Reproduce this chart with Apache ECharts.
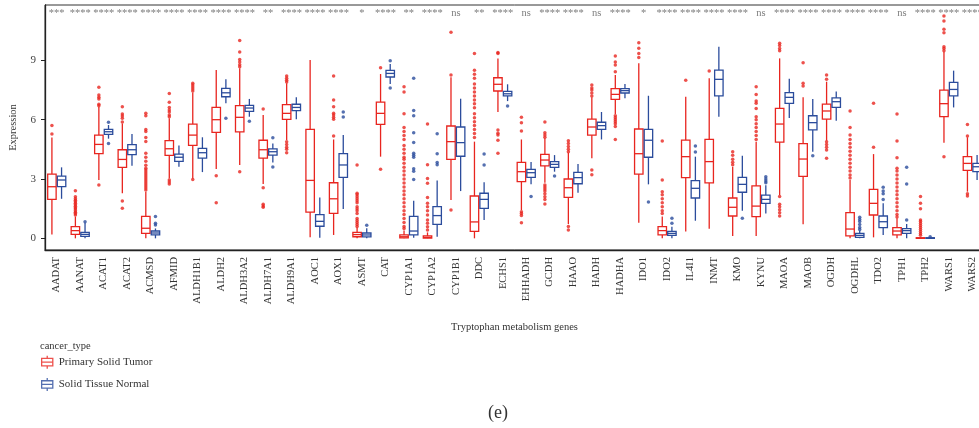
<!DOCTYPE html>
<html>
<head>
<meta charset="utf-8">
<script src="https://cdn.jsdelivr.net/npm/echarts@6/dist/echarts.min.js"></script>
<style>
html, body { margin: 0; padding: 0; overflow: hidden; background: #fff; }
#main { width: 990px; height: 428px; }
</style>
</head>
<body>
<div id="main"></div>
<script>
// genes on the x axis
const genes = ['AADAT', 'AANAT', 'ACAT1', 'ACAT2', 'ACMSD', 'AFMID', 'ALDH1B1', 'ALDH2', 'ALDH3A2', 'ALDH7A1',
    'ALDH9A1', 'AOC1', 'AOX1', 'ASMT', 'CAT', 'CYP1A1', 'CYP1A2', 'CYP1B1', 'DDC', 'ECHS1',
    'EHHADH', 'GCDH', 'HAAO', 'HADH', 'HADHA', 'IDO1', 'IDO2', 'IL4I1', 'INMT', 'KMO',
    'KYNU', 'MAOA', 'MAOB', 'OGDH', 'OGDHL', 'TDO2', 'TPH1', 'TPH2', 'WARS1', 'WARS2']

// [lower whisker, Q1, median, Q3, upper whisker]
const tumorBox = [
    [0.2, 1.97, 2.61, 3.25, 5.1], [0, 0.2, 0.39, 0.59, 1.1], [2.95, 4.28, 4.75, 5.22, 6.66], [2.28, 3.59, 3.99, 4.48, 5.81],
    [0, 0.25, 0.51, 1.11, 2.36], [3.02, 4.2, 4.53, 4.94, 6.07], [3.03, 4.7, 5.22, 5.78, 7.37], [3.5, 5.36, 6.0, 6.62, 8.51],
    [3.71, 5.38, 6.12, 6.71, 8.6], [2.75, 4.06, 4.48, 4.96, 6.24], [4.97, 6.02, 6.32, 6.76, 7.84], [0.05, 1.33, 2.93, 5.51, 9.02],
    [0.17, 1.26, 2.0, 2.81, 5.0], [0, 0.08, 0.19, 0.3, 0.55], [4.13, 5.76, 6.32, 6.89, 8.31], [0, 0.02, 0.08, 0.17, 0.4],
    [0, 0.01, 0.05, 0.12, 0.3], [1.94, 3.99, 4.89, 5.68, 8.14], [0, 0.35, 0.83, 2.14, 4.89], [6.39, 7.45, 7.79, 8.12, 9.1],
    [1.43, 2.87, 3.37, 3.84, 5.0], [2.81, 3.66, 3.96, 4.25, 5.06], [0.72, 2.07, 2.56, 3.0, 4.33], [4.05, 5.22, 5.63, 6.03, 7.13],
    [6.29, 7.03, 7.28, 7.57, 8.26], [0.79, 3.25, 4.28, 5.53, 8.85], [0, 0.17, 0.39, 0.59, 1.1], [0.34, 3.07, 4.13, 4.97, 7.16],
    [0.49, 2.8, 3.88, 5.0, 8.09], [0.12, 1.13, 1.57, 2.04, 3.62], [0.12, 1.1, 1.63, 2.65, 4.89], [2.19, 4.87, 5.78, 6.57, 9.1],
    [0.71, 3.13, 4.01, 4.79, 7.13], [4.94, 6.03, 6.44, 6.79, 7.92], [0, 0.12, 0.47, 1.3, 2.95], [0.05, 1.18, 1.77, 2.48, 4.26],
    [0, 0.17, 0.37, 0.54, 1.01], [0, 0, 0, 0.03, 0.06], [4.84, 6.15, 6.81, 7.5, 9.44], [2.36, 3.44, 3.79, 4.13, 5.11]
]
const normalBox = [
    [2.0, 2.61, 2.95, 3.15, 3.59], [0, 0.1, 0.2, 0.3, 0.79], [5.04, 5.26, 5.39, 5.51, 5.73], [3.67, 4.23, 4.48, 4.74, 5.28],
    [0, 0.17, 0.27, 0.37, 0.5], [3.62, 3.89, 4.1, 4.26, 4.7], [3.35, 4.06, 4.33, 4.55, 5.11], [6.83, 7.16, 7.36, 7.58, 8.04],
    [6.15, 6.42, 6.59, 6.72, 7.05], [3.83, 4.21, 4.38, 4.52, 4.8], [6.02, 6.46, 6.62, 6.78, 7.13], [0.03, 0.61, 0.86, 1.2, 2.07],
    [1.48, 3.08, 3.71, 4.28, 5.22], [0, 0.07, 0.17, 0.27, 0.51], [7.8, 8.16, 8.34, 8.49, 8.81], [0.03, 0.17, 0.37, 1.11, 1.9],
    [0.08, 0.71, 1.15, 1.6, 2.93], [2.39, 4.15, 4.84, 5.63, 7.06], [0.93, 1.52, 1.97, 2.28, 2.83], [6.94, 7.2, 7.31, 7.43, 7.79],
    [2.73, 3.08, 3.32, 3.49, 3.86], [3.37, 3.59, 3.74, 3.88, 4.21], [2.31, 2.76, 3.07, 3.34, 3.76], [5.0, 5.51, 5.7, 5.87, 6.39],
    [7.08, 7.35, 7.47, 7.57, 7.8], [2.73, 4.1, 4.96, 5.51, 7.21], [0, 0.15, 0.25, 0.35, 0.59], [0.89, 2.04, 2.53, 2.92, 4.13],
    [6.15, 7.2, 8.04, 8.51, 9.69], [1.4, 2.33, 2.73, 3.08, 4.18], [1.26, 1.77, 1.97, 2.19, 2.68], [6.08, 6.83, 7.13, 7.37, 8.07],
    [4.38, 5.48, 5.85, 6.2, 7.05], [5.95, 6.62, 6.91, 7.1, 7.43], [0, 0.05, 0.15, 0.25, 0.4], [0.17, 0.54, 0.84, 1.13, 1.77],
    [0, 0.25, 0.39, 0.49, 0.72], [0, 0, 0.01, 0.03, 0.05], [6.62, 7.2, 7.53, 7.89, 8.48], [2.95, 3.37, 3.62, 3.79, 4.21]
]

// outlier points per gene
const tumorOut = [
    [5.71, 5.28],
    [2.41, 2.1, 2.0, 1.92, 1.85, 1.78, 1.7, 1.62, 1.55, 1.48, 1.4, 1.32, 1.25, 1.18],
    [7.64, 7.25, 7.13, 7.05, 6.78, 6.7, 2.7],
    [6.66, 6.29, 6.19, 6.07, 5.88, 1.89, 1.52],
    [6.32, 6.2, 5.5, 5.4, 5.1, 4.9, 4.3, 4.1, 3.9, 3.7, 3.55, 3.45, 3.35, 3.25, 3.15, 3.05, 2.95, 2.85, 2.75, 2.65, 2.55, 2.45],
    [7.33, 6.88, 6.62, 6.49, 6.39, 6.24, 6.15, 2.95, 2.85, 2.75],
    [7.84, 7.75, 7.65, 7.55, 7.45, 2.98],
    [3.17, 1.8],
    [10.01, 9.42, 9.05, 8.92, 8.78, 8.68, 3.37],
    [6.54, 2.56, 1.72, 1.63, 1.57],
    [8.21, 8.1, 8.0, 7.9, 4.89, 4.75, 4.6, 4.5, 4.33],
    [],
    [8.21, 6.99, 6.66, 6.32, 6.24, 6.12, 6.02, 5.17],
    [3.71, 2.28, 2.2, 2.1, 2.0, 1.9, 1.8, 1.6, 1.5, 1.4, 1.26, 1.0, 0.9, 0.8, 0.7, 0.6],
    [8.63, 3.49],
    [7.67, 7.4, 6.3, 5.6, 5.4, 5.2, 5.0, 4.7, 4.5, 4.3, 4.1, 4.0, 3.8, 3.6, 3.4, 3.2, 3.0, 2.8, 2.6, 2.4, 2.2, 2.0, 1.8, 1.6, 1.4, 1.2, 1.0, 0.8, 0.6, 0.5],
    [5.78, 3.72, 3.03, 2.78, 2.06, 1.77, 1.6, 1.4, 1.18, 0.93, 0.76, 0.59, 0.42],
    [10.42, 8.26, 1.43],
    [9.35, 8.5, 8.3, 8.1, 7.8, 7.6, 7.4, 7.2, 7.0, 6.8, 6.6, 6.3, 6.1, 5.9, 5.7, 5.5, 5.3, 5.1],
    [9.4, 9.35, 5.48, 5.31, 5.22, 4.96, 4.3],
    [6.12, 5.85, 5.43, 1.35, 1.25, 1.15, 0.79],
    [5.88, 5.34, 5.22, 5.11, 2.7, 2.6, 2.5, 2.4, 2.25, 2.1, 1.97, 1.74],
    [4.94, 4.8, 4.65, 4.5, 4.38, 0.6, 0.42],
    [7.75, 7.6, 7.5, 7.35, 7.2, 3.46, 3.22],
    [9.22, 8.92, 8.76, 8.43, 6.2, 6.1, 6.0, 5.9, 5.8, 5.65, 5.0],
    [9.89, 9.61, 9.35, 9.15],
    [4.92, 2.95, 2.36, 2.2, 2.0, 1.8, 1.6, 1.4, 1.26],
    [7.99],
    [8.46],
    [4.38, 4.2, 4.0, 3.85, 3.72],
    [7.67, 7.28, 6.94, 6.83, 6.57, 6.15, 6.0, 5.8, 5.6, 5.4, 5.2, 5.0],
    [9.86, 9.75, 9.6, 9.49, 2.11, 1.72, 1.6, 1.45, 1.3, 1.13],
    [8.88, 7.84, 7.7],
    [8.26, 8.04, 4.89, 4.75, 4.6, 4.47, 4.05],
    [6.44, 5.6, 5.22, 5.0, 4.8, 4.6, 4.4, 4.2, 4.0, 3.8, 3.6, 3.4, 3.2, 3.05],
    [6.83, 4.6],
    [6.29, 4.92, 4.08, 3.54, 3.4, 3.2, 3.0, 2.8, 2.6, 2.4, 2.2, 2.0, 1.8, 1.6, 1.4, 1.2, 1.08],
    [2.12, 1.77, 1.5, 0.93, 0.85, 0.75, 0.65, 0.55, 0.45, 0.35, 0.25, 0.15],
    [11.24, 10.99, 10.57, 10.4, 9.69, 9.6, 9.49, 4.13],
    [5.76, 5.17, 2.25, 2.14]
]
const normalOut = [
    [], [0.84], [5.87, 4.8], [], [1.1, 0.76, 0.67], [], [], [6.07], [5.92], [5.09, 3.61],
    [], [], [6.39, 6.13], [0.66], [8.98, 7.6],
    [8.09, 6.46, 6.2, 5.34, 4.85, 4.3, 4.2, 4.1, 3.52, 3.39, 2.98],
    [5.29, 4.28, 3.84, 3.72], [], [4.26, 3.71], [6.69],
    [2.11], [3.15], [], [], [], [1.84], [1.01, 0.76], [4.67, 4.37], [], [1.01],
    [3.12, 3.0, 2.9, 2.81], [], [4.18], [], [1.06, 0.95, 0.85, 0.7, 0.55, 0.45], [2.58, 2.4, 2.25, 1.97],
    [3.59, 2.75, 0.93], [0.08], [], []
]

// significance labels above each gene
const sigs = ['***', '****', '****', '****', '****', '****', '****', '****', '****', '**',
    '****', '****', '****', '*', '****', '**', '****', 'ns', '**', '****',
    'ns', '****', '****', 'ns', '****', '*', '****', '****', '****', '****',
    'ns', '****', '****', '****', '****', '****', 'ns', '****', '****', '****']

const yTicks = [0, 3, 6, 9]

const red = '#E8251F'
const blue = '#2B4C9C'
const serif = 'Liberation Serif'
const dodge = 0.2055
const boxSpan = 0.36
const sigY = 11.38
const boxIcon = 'path://M6.5,0V3M0.5,3H12.5V11H0.5ZM0.5,7H12.5M6.5,11V14'

function boxData (boxes, off) {
    return boxes.map((b, i) => [i + off].concat(b))
}
function outData (outs, off) {
    let pts = []
    outs.forEach((arr, i) => {
        arr.forEach(v => pts.push([i + off, v]))
    })
    return pts
}
function boxItem (color) {
    return function (params, api) {
        const x = api.value(0)
        const lo = api.coord([x, api.value(1)])
        const q1 = api.coord([x, api.value(2)])
        const md = api.coord([x, api.value(3)])
        const q3 = api.coord([x, api.value(4)])
        const hi = api.coord([x, api.value(5)])
        const half = api.size([boxSpan, 0])[0] / 2
        const st = { stroke: color, lineWidth: 1.3, fill: 'none' }
        return {
            type: 'group',
            children: [
                { type: 'line', shape: { x1: lo[0], y1: lo[1], x2: q1[0], y2: q1[1] }, style: st },
                { type: 'line', shape: { x1: q3[0], y1: q3[1], x2: hi[0], y2: hi[1] }, style: st },
                { type: 'rect', shape: { x: q3[0] - half, y: q3[1], width: half * 2, height: q1[1] - q3[1] },
                    style: { stroke: color, lineWidth: 1.3, fill: '#fff' } },
                { type: 'line', shape: { x1: md[0] - half, y1: md[1], x2: md[0] + half, y2: md[1] }, style: st },
            ],
        }
    }
}

let option = {
    backgroundColor: '#ffffff',
    animation: false,
    title: [
        { text: 'cancer_type', left: 40, top: 341, padding: 0,
            textStyle: { fontFamily: serif, fontSize: 10.5, fontWeight: 'normal', color: '#333' } },
        { text: '(e)', left: 488, top: 404, padding: 0,
            textStyle: { fontFamily: serif, fontSize: 18, fontWeight: 'normal', color: '#333' } },
    ],
    legend: {
        orient: 'vertical',
        left: 41,
        top: 355,
        padding: 0,
        itemWidth: 13,
        itemHeight: 13,
        itemGap: 8,
        textStyle: { fontFamily: serif, fontSize: 11, color: '#333' },
        data: [
            { name: 'Primary Solid Tumor', icon: boxIcon,
                itemStyle: { color: 'rgba(0,0,0,0)', borderColor: red, borderWidth: 1.3 } },
            { name: 'Solid Tissue Normal', icon: boxIcon,
                itemStyle: { color: 'rgba(0,0,0,0)', borderColor: blue, borderWidth: 1.3 } },
        ],
    },
    grid: {
        left: 42, top: 5, width: 942, height: 245,
        show: true, borderColor: '#333', borderWidth: 1,
    },
    xAxis: [
        {
            type: 'category',
            data: genes,
            axisLine: { onZero: false, lineStyle: { color: '#222', width: 1.3 } },
            axisTick: { alignWithLabel: true, length: 4, lineStyle: { color: '#222' } },
            axisLabel: { rotate: 90, margin: 7, interval: 0, fontFamily: serif, fontSize: 10.5, color: '#333' },
            splitLine: { show: false },
            name: 'Tryptophan metabolism genes',
            nameLocation: 'middle',
            nameGap: 72,
            nameTextStyle: { fontFamily: serif, fontSize: 10.5, color: '#333' },
        },
        { type: 'value', min: -0.5, max: 39.5, show: false },
    ],
    yAxis: {
        type: 'value',
        min: -0.59,
        max: 11.8,
        axisLine: { show: true, onZero: false, lineStyle: { color: '#222', width: 1.3 } },
        axisTick: { show: true, length: 4, customValues: yTicks, lineStyle: { color: '#222' } },
        axisLabel: { customValues: yTicks, margin: 9, fontFamily: serif, fontSize: 11, color: '#444' },
        splitLine: { show: false },
        name: 'Expression',
        nameLocation: 'middle',
        nameRotate: 90,
        nameGap: 26,
        nameTextStyle: { fontFamily: serif, fontSize: 10.5, color: '#333' },
    },
    series: [
        {
            name: 'Primary Solid Tumor', type: 'scatter', xAxisIndex: 1,
            data: outData(tumorOut, -dodge), symbolSize: 3.5, itemStyle: { color: red },
        },
        {
            name: 'Solid Tissue Normal', type: 'scatter', xAxisIndex: 1,
            data: outData(normalOut, dodge), symbolSize: 3.5, itemStyle: { color: blue },
        },
        {
            name: 'Primary Solid Tumor', type: 'custom', xAxisIndex: 1,
            data: boxData(tumorBox, -dodge), renderItem: boxItem(red),
            encode: { x: 0, y: [1, 2, 3, 4, 5] },
        },
        {
            name: 'Solid Tissue Normal', type: 'custom', xAxisIndex: 1,
            data: boxData(normalBox, dodge), renderItem: boxItem(blue),
            encode: { x: 0, y: [1, 2, 3, 4, 5] },
        },
        {
            name: 'sig', type: 'scatter', xAxisIndex: 1,
            data: sigs.map((s, i) => [i, sigY]),
            symbolSize: 1,
            itemStyle: { color: 'rgba(0,0,0,0)' },
            label: {
                show: true,
                position: 'inside',
                formatter: function (params) {
                    return sigs[params.dataIndex]
                },
                fontFamily: serif,
                fontSize: 10.5,
                color: '#5a5a5a',
            },
        },
    ],
}
let myChart = echarts.init(document.getElementById('main'))
myChart.setOption(option)
</script>
</body>
</html>
